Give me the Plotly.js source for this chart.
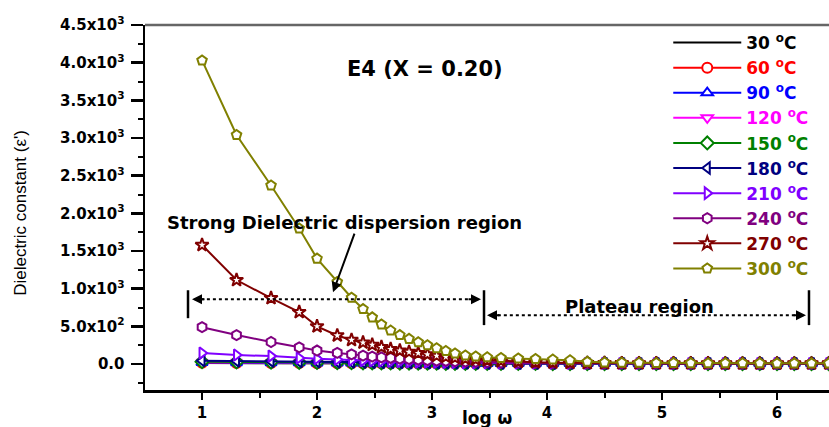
<!DOCTYPE html>
<html>
<head>
<meta charset="utf-8">
<script src="https://cdn.plot.ly/plotly-3.0.1.min.js"></script>
<style>html,body{margin:0;padding:0;background:#fff;}#chart{width:829px;height:427px;}</style>
</head>
<body>
<div id="chart"></div>
<script>
// log(omega) sample positions
const logW = [1.0, 1.30, 1.60, 1.845, 2.0, 2.176, 2.30, 2.40, 2.48, 2.56, 2.64, 2.72, 2.80, 2.88, 2.96, 3.04, 3.12, 3.20, 3.29, 3.38, 3.48, 3.60, 3.75, 3.90, 4.05, 4.20, 4.35, 4.50, 4.65, 4.80, 4.95, 5.10, 5.25, 5.40, 5.55, 5.70, 5.85, 6.00, 6.15, 6.30, 6.45];

const eps30  = [13, 12, 12, 11, 11, 10, 10, 10, 10, 9, 9, 9, 9, 9, 8, 8, 8, 8, 8, 8, 7, 7, 7, 7, 7, 7, 7, 6, 6, 6, 6, 6, 6, 6, 6, 6, 6, 6, 5, 5, 5];
const eps60  = [16, 15, 14, 13, 12, 12, 11, 11, 11, 10, 10, 10, 10, 9, 9, 9, 9, 8, 8, 8, 8, 8, 7, 7, 7, 7, 7, 7, 6, 6, 6, 6, 6, 6, 6, 6, 6, 6, 6, 6, 6];
const eps90  = [20, 18, 17, 16, 15, 14, 13, 13, 12, 12, 11, 11, 11, 10, 10, 10, 9, 9, 9, 9, 8, 8, 8, 8, 7, 7, 7, 7, 7, 6, 6, 6, 6, 6, 6, 6, 6, 6, 6, 6, 6];
const eps120 = [25, 23, 21, 19, 18, 17, 16, 15, 14, 14, 13, 13, 12, 12, 11, 11, 10, 10, 10, 9, 9, 9, 8, 8, 8, 8, 7, 7, 7, 7, 7, 6, 6, 6, 6, 6, 6, 6, 6, 6, 6];
const eps150 = [32, 29, 26, 24, 22, 20, 19, 18, 17, 16, 15, 14, 13, 13, 12, 12, 11, 11, 10, 10, 10, 9, 9, 9, 8, 8, 8, 8, 7, 7, 7, 7, 7, 6, 6, 6, 6, 6, 6, 6, 6];
const eps180 = [45, 40, 36, 32, 29, 26, 24, 22, 20, 19, 18, 17, 16, 15, 14, 13, 12, 12, 11, 11, 10, 10, 9, 9, 9, 8, 8, 8, 8, 7, 7, 7, 7, 7, 7, 7, 6, 6, 6, 6, 6];
const eps210 = [146, 120, 106, 80, 70, 60, 52, 46, 42, 38, 34, 31, 28, 26, 24, 22, 20, 18, 16, 15, 14, 13, 12, 11, 10, 10, 9, 9, 8, 8, 8, 7, 7, 7, 7, 7, 7, 7, 7, 7, 7];
const eps240 = [490, 385, 293, 222, 180, 148, 128, 112, 100, 90, 81, 73, 66, 59, 53, 47, 42, 37, 33, 29, 25, 21, 18, 15, 13, 12, 11, 10, 9, 9, 8, 8, 8, 7, 7, 7, 7, 7, 7, 7, 7];
const eps270 = [1580, 1115, 875, 690, 500, 380, 320, 285, 255, 225, 198, 178, 160, 145, 128, 110, 96, 83, 71, 61, 52, 42, 32, 24, 19, 16, 13, 12, 11, 10, 10, 9, 9, 9, 8, 8, 8, 8, 8, 8, 8];
const eps300 = [4030, 3040, 2370, 1800, 1400, 1090, 880, 730, 620, 525, 445, 385, 335, 290, 250, 210, 175, 140, 115, 100, 90, 82, 75, 68, 60, 50, 30, 22, 19, 17, 15, 14, 13, 12, 12, 11, 11, 10, 10, 10, 10];

const seriesNames = ["30", "60", "90", "120", "150", "180", "210", "240", "270", "300"];
const seriesData = [eps30, eps60, eps90, eps120, eps150, eps180, eps210, eps240, eps270, eps300];
const seriesColors = ["#000000", "#FF0000", "#0000FF", "#FF00FF", "#008000", "#000080", "#8000FF", "#800080", "#800000", "#808000"];
const seriesSymbols = [null, "circle", "triangle-up", "triangle-down", "diamond", "triangle-left", "triangle-right", "hexagon", "star", "pentagon"];

const yTickVals = [0, 500, 1000, 1500, 2000, 2500, 3000, 3500, 4000, 4500];
const yTickText = ["0.0", "5.0x10<sup>2</sup>", "1.0x10<sup>3</sup>", "1.5x10<sup>3</sup>", "2.0x10<sup>3</sup>", "2.5x10<sup>3</sup>", "3.0x10<sup>3</sup>", "3.5x10<sup>3</sup>", "4.0x10<sup>3</sup>", "4.5x10<sup>3</sup>"];
const xTickVals = [1, 2, 3, 4, 5, 6];

const BOLD = "DejaVu Sans, Arial, sans-serif";

const traces = seriesNames.map((n, i) => {
  const t = {
    x: logW, y: seriesData[i], type: "scatter",
    name: '<span style="color:' + seriesColors[i] + '">' + n + ' <sup>o</sup>C</span>',
    legendgroup: "g" + i,
    line: {color: seriesColors[i], width: 2},
  };
  if (seriesSymbols[i]) {
    t.mode = "lines+markers";
    t.marker = {symbol: seriesSymbols[i], size: 10, color: "#ffffff", line: {color: seriesColors[i], width: 2}};
  } else {
    t.mode = "lines";
  }
  return t;
});

const ax = {family: BOLD, size: 15, color: "#000", weight: "bold"};

const layout = {
  width: 829, height: 427,
  margin: {l: 145, r: 0, t: 25, b: 37},
  paper_bgcolor: "#fff", plot_bgcolor: "#fff",
  showlegend: true,
  legend: {
    x: 0.765, xanchor: "left", y: 1.0, yanchor: "top",
    bgcolor: "rgba(0,0,0,0)", bordercolor: "rgba(0,0,0,0)", borderwidth: 0,
    font: {family: BOLD, size: 17, color: "#000", weight: "bold"},
    itemwidth: 68, tracegroupgap: 0
  },
  xaxis: {
    range: [0.504, 6.452], showgrid: false, zeroline: false,
    showline: true, linecolor: "#000", linewidth: 2.5,
    tickmode: "array", tickvals: xTickVals, ticks: "outside", ticklen: 7, tickwidth: 2.5, tickcolor: "#000",
    tickfont: ax,
    minor: {tickmode: "array", tickvals: [1.5, 2.5, 3.5, 4.5, 5.5], ticks: "outside", ticklen: 5, tickwidth: 2, tickcolor: "#000"}
  },
  yaxis: {
    range: [-344, 4500], showgrid: false, zeroline: false,
    showline: true, linecolor: "#000", linewidth: 2.5,
    tickmode: "array", tickvals: yTickVals, ticktext: yTickText, ticks: "outside", ticklen: 12, tickwidth: 2.5, tickcolor: "#000",
    tickfont: ax, ticklabelstandoff: 3,
    minor: {tickmode: "array", tickvals: [-250, 250, 750, 1250, 1750, 2250, 2750, 3250, 3750, 4250], ticks: "outside", ticklen: 5, tickwidth: 2, tickcolor: "#000"}
  },
  shapes: [
    {type: "line", xref: "paper", yref: "paper", x0: 0, x1: 1, y0: 1, y1: 1, line: {color: "#666", width: 2.5}},
    {type: "line", x0: 0.878, x1: 0.878, y0: 609, y1: 980, line: {color: "#000", width: 2.5}},
    {type: "line", x0: 3.452, x1: 3.452, y0: 517, y1: 980, line: {color: "#000", width: 2.5}},
    {type: "line", x0: 6.278, x1: 6.278, y0: 517, y1: 980, line: {color: "#000", width: 2.5}},
    {type: "line", x0: 0.99, x1: 3.40, y0: 861, y1: 861, line: {color: "#000", width: 2, dash: "dot"}},
    {type: "line", x0: 3.52, x1: 6.21, y0: 649, y1: 649, line: {color: "#000", width: 2, dash: "dot"}}
  ],
  annotations: [
    {text: "E4 (X = 0.20)", x: 2.94, y: 3920, showarrow: false, font: {family: BOLD, size: 21, color: "#000", weight: "bold"}},
    {text: "Strong Dielectric dispersion region", x: 2.243, y: 1881, showarrow: false, font: {family: BOLD, size: 18, color: "#000", weight: "bold"}},
    {text: "Plateau region", x: 4.80, y: 770, showarrow: false, font: {family: BOLD, size: 18, color: "#000", weight: "bold"}},
    {text: "", x: 2.139, y: 954, showarrow: true, ax: 22, ay: -60, arrowhead: 2, arrowsize: 1, arrowwidth: 2, arrowcolor: "#000"},
    {text: "", x: 0.913, y: 861, showarrow: true, ax: 14, ay: 0, arrowhead: 2, arrowsize: 1, arrowwidth: 2, arrowcolor: "#000"},
    {text: "", x: 3.426, y: 861, showarrow: true, ax: -14, ay: 0, arrowhead: 2, arrowsize: 1, arrowwidth: 2, arrowcolor: "#000"},
    {text: "", x: 3.478, y: 649, showarrow: true, ax: 14, ay: 0, arrowhead: 2, arrowsize: 1, arrowwidth: 2, arrowcolor: "#000"},
    {text: "", x: 6.252, y: 649, showarrow: true, ax: -14, ay: 0, arrowhead: 2, arrowsize: 1, arrowwidth: 2, arrowcolor: "#000"},
    {text: "log ω", xref: "paper", yref: "paper", x: 0.501, y: -0.077, xanchor: "center", yanchor: "middle", showarrow: false, font: {family: BOLD, size: 17, color: "#000", weight: "bold"}},
    {text: "Dielectric constant (ε')", xref: "paper", yref: "paper", x: -0.182, y: 0.484, xanchor: "center", yanchor: "middle", textangle: -90, showarrow: false, font: {family: "Liberation Sans, Arial, sans-serif", size: 17, color: "#000"}}
  ]
};

Plotly.newPlot("chart", traces, layout, {displayModeBar: false, staticPlot: true});
</script>
</body>
</html>
